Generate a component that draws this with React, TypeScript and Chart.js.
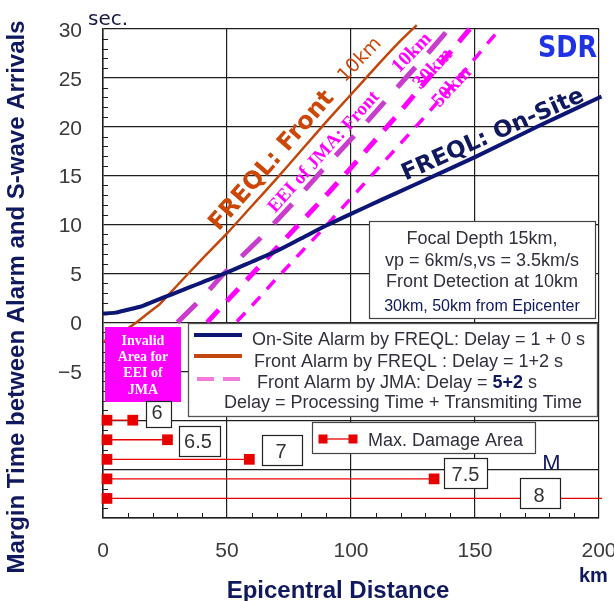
import React, { useEffect, useRef } from 'react';
import { Chart, registerables } from 'chart.js';

Chart.register(...registerables);

// ---------------- data ----------------
const xTickValues = [0, 50, 100, 150, 200];
const yTickValues = [30, 25, 20, 15, 10, 5, 0, -5];

const onSiteDist = [0, 5, 10, 15, 20, 25, 30, 35, 40, 50, 60, 70, 80, 90, 100, 112, 125, 150, 175, 201];
const onSiteMargin = [0.9, 1.0, 1.3, 1.6, 2.1, 2.6, 3.1, 3.6, 4.1, 5.1, 6.2, 7.3, 8.6, 9.9, 11.1, 12.5, 14.0, 16.9, 20.0, 23.1];

const frontDist = [0, 10, 14, 20, 23, 30, 40, 50, 60, 70, 80, 90, 100, 110, 120, 126.5];
const frontMargin = [-2.0, -0.6, 0.1, 1.3, 1.9, 3.8, 6.5, 9.1, 11.9, 14.7, 17.6, 20.5, 23.3, 26.1, 28.8, 30.4];

const jma10Dist = [30, 40, 48, 63, 77, 90, 105, 120, 132, 140.5];
const jma10Margin = [0.0, 2.5, 4.8, 8.5, 12.3, 16.0, 20.1, 24.4, 27.8, 30.3];

const jma30Dist = [42, 50, 60, 70, 80, 90, 100, 110, 120, 130, 140, 148.5];
const jma30Margin = [0.0, 2.2, 4.9, 7.6, 10.3, 13.0, 15.8, 18.7, 21.6, 24.6, 27.6, 30.2];

const jma50Dist = [54, 60, 70, 80, 90, 100, 110, 120, 130, 140, 150, 160];
const jma50Margin = [0.1, 1.7, 4.5, 7.2, 9.9, 12.7, 15.5, 18.3, 21.1, 24.0, 27.0, 30.0];

const magnitudeLabels = ['6', '6.5', '7', '7.5', '8'];
const damageFrom = [1.6, 1.6, 1.6, 1.6, 1.6];
const damageTo = [12, 26, 59, 133.5, 201.2];
const damageRow = [-10, -12, -14, -16, -18];

const legendTexts = [
  'On-Site Alarm by FREQL: Delay = 1 + 0 s',
  'Front Alarm by FREQL : Delay = 1+2 s',
  'Front Alarm by JMA: Delay = ',
  '5+2',
  ' s',
  'Delay = Processing Time + Transmiting Time',
];
const infoTexts = ['Focal Depth 15km,', 'vp = 6km/s,vs = 3.5km/s', 'Front Detection at 10km', '30km, 50km from Epicenter'];
const invalidTexts = ['Invalid', 'Area for', 'EEI of', 'JMA'];
const lineLabels = ['FREQL: Front', '10km', 'FREQL: On-Site', 'EEI of JMA: Front', '10km', '30km', '50km'];
const damageLegendText = 'Max. Damage Area';
const yTitle = 'Margin Time between Alarm and S-wave Arrivals';
const xTitle = 'Epicentral Distance';

// ---------------- styles ----------------
const NAVY = '#0d1675';
const NAVY_T = '#10195e';
const BROWN = '#c2470f';
const BROWN_T = '#cc4608';
const MAGENTA = '#ff00ff';
const PURPLE = '#c93ccd';
const RED = '#e80000';
const GRID = '#1e1e1e';
const GREY_T = '#30303e';

function txt(
  ctx: CanvasRenderingContext2D,
  s: string,
  x: number,
  y: number,
  font: string,
  color: string,
  align: CanvasTextAlign = 'left',
  base: CanvasTextBaseline = 'alphabetic',
  deg = 0,
  maxW?: number
) {
  ctx.save();
  ctx.translate(x, y);
  if (deg) ctx.rotate((-deg * Math.PI) / 180);
  ctx.font = font;
  ctx.fillStyle = color;
  ctx.textAlign = align;
  ctx.textBaseline = base;
  if (maxW) ctx.fillText(s, 0, 0, maxW);
  else ctx.fillText(s, 0, 0);
  ctx.restore();
}

function box(ctx: CanvasRenderingContext2D, x: number, y: number, w: number, h: number, fill: string, stroke?: string, lw = 1) {
  ctx.save();
  ctx.fillStyle = fill;
  ctx.fillRect(x, y, w, h);
  if (stroke) {
    ctx.strokeStyle = stroke;
    ctx.lineWidth = lw;
    ctx.strokeRect(x + 0.5, y + 0.5, w, h);
  }
  ctx.restore();
}

function seg(ctx: CanvasRenderingContext2D, x0: number, y0: number, x1: number, y1: number, color: string, lw: number, dash: number[] = []) {
  ctx.save();
  ctx.strokeStyle = color;
  ctx.lineWidth = lw;
  ctx.setLineDash(dash);
  ctx.beginPath();
  ctx.moveTo(x0, y0);
  ctx.lineTo(x1, y1);
  ctx.stroke();
  ctx.restore();
}

const overlayPlugin = {
  id: 'overlay',
  beforeDatasetsDraw(chart: any) {
    const { ctx, chartArea: a, scales } = chart;
    const xs = scales.x;
    const ys = scales.y;
    ctx.save();
    ctx.strokeStyle = GRID;
    ctx.lineWidth = 1;
    for (let v = -20; v <= 30; v++) {
      if (v % 5 === 0) continue;
      const py = Math.round(ys.getPixelForValue(v)) + 0.5;
      ctx.beginPath();
      ctx.moveTo(a.left, py);
      ctx.lineTo(a.left + 5, py);
      ctx.stroke();
    }
    for (let v = 10; v < 200; v += 10) {
      if (v % 50 === 0) continue;
      const px = Math.round(xs.getPixelForValue(v)) + 0.5;
      ctx.beginPath();
      ctx.moveTo(px, a.bottom);
      ctx.lineTo(px, a.bottom - 5);
      ctx.stroke();
    }
    ctx.restore();
  },
  afterDatasetsDraw(chart: any) {
    const { ctx } = chart;
    // Invalid area box
    box(ctx, 105, 327, 76, 75, MAGENTA);
    const invFont = 'bold 14px "Liberation Serif"';
    txt(ctx, invalidTexts[0], 143, 344.5, invFont, '#ffffff', 'center');
    txt(ctx, invalidTexts[1], 143, 360.5, invFont, '#ffffff', 'center');
    txt(ctx, invalidTexts[2], 143, 377, invFont, '#ffffff', 'center');
    txt(ctx, invalidTexts[3], 143, 394, invFont, '#ffffff', 'center');

    // Legend box
    box(ctx, 188, 323, 409, 93, '#ffffff', '#555555', 1.3);
    const lf = '18px "Liberation Sans"';
    seg(ctx, 194, 335, 242, 335, NAVY, 4);
    txt(ctx, legendTexts[0], 252, 344.5, lf, GREY_T);
    seg(ctx, 194, 356, 242, 356, BROWN, 4);
    txt(ctx, legendTexts[1], 254, 367, lf, GREY_T);
    seg(ctx, 197, 379, 242, 379, '#f27ad8', 4, [17, 9]);
    ctx.save();
    ctx.font = lf;
    const w1 = ctx.measureText(legendTexts[2]).width;
    ctx.font = 'bold 18px "Liberation Sans"';
    const w2 = ctx.measureText(legendTexts[3]).width;
    ctx.restore();
    txt(ctx, legendTexts[2], 257, 388, lf, GREY_T);
    txt(ctx, legendTexts[3], 257 + w1, 388, 'bold 18px "Liberation Sans"', NAVY_T);
    txt(ctx, legendTexts[4], 257 + w1 + w2, 388, lf, GREY_T);
    txt(ctx, legendTexts[5], 224, 408, lf, GREY_T);

    // Info box
    box(ctx, 369, 221, 226, 97, '#ffffff', '#444444', 1.2);
    txt(ctx, infoTexts[0], 482, 243.5, lf, GREY_T, 'center');
    txt(ctx, infoTexts[1], 482, 265.5, lf, GREY_T, 'center');
    txt(ctx, infoTexts[2], 482, 287, lf, GREY_T, 'center');
    txt(ctx, infoTexts[3], 482, 310.5, '16px "Liberation Sans"', NAVY_T, 'center');

    // Max damage legend
    box(ctx, 312, 422, 223, 31, '#ffffff', '#444444', 1.2);
    seg(ctx, 323, 439, 353, 439, RED, 1.3);
    ctx.save();
    ctx.fillStyle = RED;
    ctx.fillRect(318.5, 434.5, 9, 9);
    ctx.fillRect(348.5, 434.5, 9, 9);
    ctx.restore();
    txt(ctx, damageLegendText, 368, 445.5, lf, GREY_T);

    // Magnitude label boxes
    const mf = '20px "Liberation Sans"';
    const mboxes = [
      [146, 401, 25, 26, 157, 419],
      [179, 426, 41, 30, 198, 448],
      [262, 435, 40, 30, 281, 458],
      [444, 458, 43, 30, 465.5, 480.5],
      [520, 478, 40, 30, 539, 501.5],
    ];
    mboxes.forEach((b, i) => {
      box(ctx, b[0], b[1], b[2], b[3], '#ffffff', '#222222', 1.2);
      txt(ctx, magnitudeLabels[i], b[4], b[5], mf, '#333333', 'center');
    });
    txt(ctx, 'M', 551.5, 470, '22px "Liberation Sans"', NAVY_T, 'center');

    // Titles and annotations
    txt(ctx, yTitle, 17, 297, 'bold 24px "Liberation Sans"', NAVY_T, 'center', 'middle', 90);
    txt(ctx, xTitle, 338, 598, 'bold 24px "Liberation Sans"', NAVY_T, 'center');
    txt(ctx, 'km', 579, 581.5, 'bold 20px "Liberation Sans"', NAVY_T);
    txt(ctx, 'sec.', 88, 25, '20px "DejaVu Sans"', '#1a1a4a');
    txt(ctx, 'SDR', 538, 57, 'bold 30px "DejaVu Sans"', '#1e32e6', 'left', 'alphabetic', 0, 59);

    // Rotated line labels
    txt(ctx, lineLabels[0], 272, 161, 'bold 24px "DejaVu Sans"', BROWN_T, 'center', 'middle', 49);
    txt(ctx, lineLabels[1], 360, 60, '19px "DejaVu Sans"', BROWN_T, 'center', 'middle', 46);
    txt(ctx, lineLabels[2], 493, 135, 'bold 23px "DejaVu Sans"', NAVY_T, 'center', 'middle', 24);
    txt(ctx, lineLabels[3], 324, 152, 'bold 19px "Liberation Serif"', MAGENTA, 'center', 'middle', 48);
    txt(ctx, lineLabels[4], 412, 53, 'bold 20px "Liberation Serif"', MAGENTA, 'center', 'middle', 46);
    txt(ctx, lineLabels[5], 433, 69, 'bold 20px "Liberation Serif"', MAGENTA, 'center', 'middle', 47);
    txt(ctx, lineLabels[6], 452, 87, 'bold 20px "Liberation Serif"', MAGENTA, 'center', 'middle', 47);
  },
};

function pts(xs: number[], ys: number[]) {
  return xs.map((v, i) => ({ x: v, y: ys[i] }));
}

export default function App() {
  const canvasRef = useRef<HTMLCanvasElement | null>(null);

  useEffect(() => {
    const canvas = canvasRef.current;
    if (!canvas) return;

    const lineBase = { pointRadius: 0, fill: false, clip: false as any, tension: 0 };
    const datasets: any[] = [
      { ...lineBase, label: 'onsite', data: pts(onSiteDist, onSiteMargin), borderColor: NAVY, borderWidth: 4, tension: 0.2 },
      { ...lineBase, label: 'front', data: pts(frontDist, frontMargin), borderColor: BROWN, borderWidth: 2.5, tension: 0.2 },
      { ...lineBase, label: 'jma10', data: pts(jma10Dist, jma10Margin), borderColor: PURPLE, borderWidth: 5, borderDash: [27, 19] },
      { ...lineBase, label: 'jma30', data: pts(jma30Dist, jma30Margin), borderColor: MAGENTA, borderWidth: 5, borderDash: [17, 12] },
      { ...lineBase, label: 'jma50', data: pts(jma50Dist, jma50Margin), borderColor: MAGENTA, borderWidth: 3.5, borderDash: [12, 10] },
    ];
    magnitudeLabels.forEach((m, i) => {
      datasets.push({
        label: 'M' + m,
        data: [
          { x: damageFrom[i], y: damageRow[i] },
          { x: damageTo[i], y: damageRow[i] },
        ],
        borderColor: RED,
        borderWidth: 1.3,
        pointStyle: 'rect',
        pointRadius: i === magnitudeLabels.length - 1 ? [7.6, 0] : [7.6, 7.6],
        pointBackgroundColor: RED,
        pointBorderColor: RED,
        pointBorderWidth: 0,
        clip: false,
        tension: 0,
      });
    });

    const tickFont = { family: '"Liberation Sans"', size: 21 };
    const chart = new Chart(canvas, {
      type: 'line',
      data: { datasets },
      options: {
        responsive: false,
        animation: false,
        events: [],
        layout: { padding: { left: 0, right: 31, top: 29, bottom: 0 } },
        plugins: { legend: { display: false }, title: { display: false }, tooltip: { enabled: false } },
        scales: {
          x: {
            type: 'linear',
            min: 0,
            max: 200,
            afterFit: (s: any) => {
              s.height = 83;
              s.paddingLeft = 0;
              s.paddingRight = 0;
            },
            afterBuildTicks: (s: any) => {
              s.ticks = xTickValues.map((v) => ({ value: v }));
            },
            ticks: { autoSkip: false, maxRotation: 0, padding: 21, font: tickFont, color: '#3a3a3a' },
            grid: { color: GRID, lineWidth: 1.2, drawTicks: false },
            border: { color: GRID, width: 1.5 },
          },
          y: {
            type: 'linear',
            min: -20,
            max: 30,
            afterFit: (s: any) => {
              s.width = 103;
              s.paddingTop = 0;
              s.paddingBottom = 0;
            },
            ticks: {
              stepSize: 5,
              padding: 21,
              labelOffset: 2,
              font: tickFont,
              color: '#3a3a3a',
              callback: (v: any) => (yTickValues.includes(Number(v)) ? (Number(v) < 0 ? '\u2212' + Math.abs(Number(v)) : String(v)) : ''),
            },
            grid: { color: GRID, lineWidth: 1.2, drawTicks: false },
            border: { color: GRID, width: 1.5 },
          },
        },
      } as any,
      plugins: [overlayPlugin],
    });

    return () => chart.destroy();
  }, []);

  return (
    <div style={{ position: 'fixed', left: 0, top: 0, width: 630, height: 601, background: '#ffffff' }}>
      <canvas ref={canvasRef} width={630} height={601} style={{ display: 'block', width: 630, height: 601 }} />
    </div>
  );
}
